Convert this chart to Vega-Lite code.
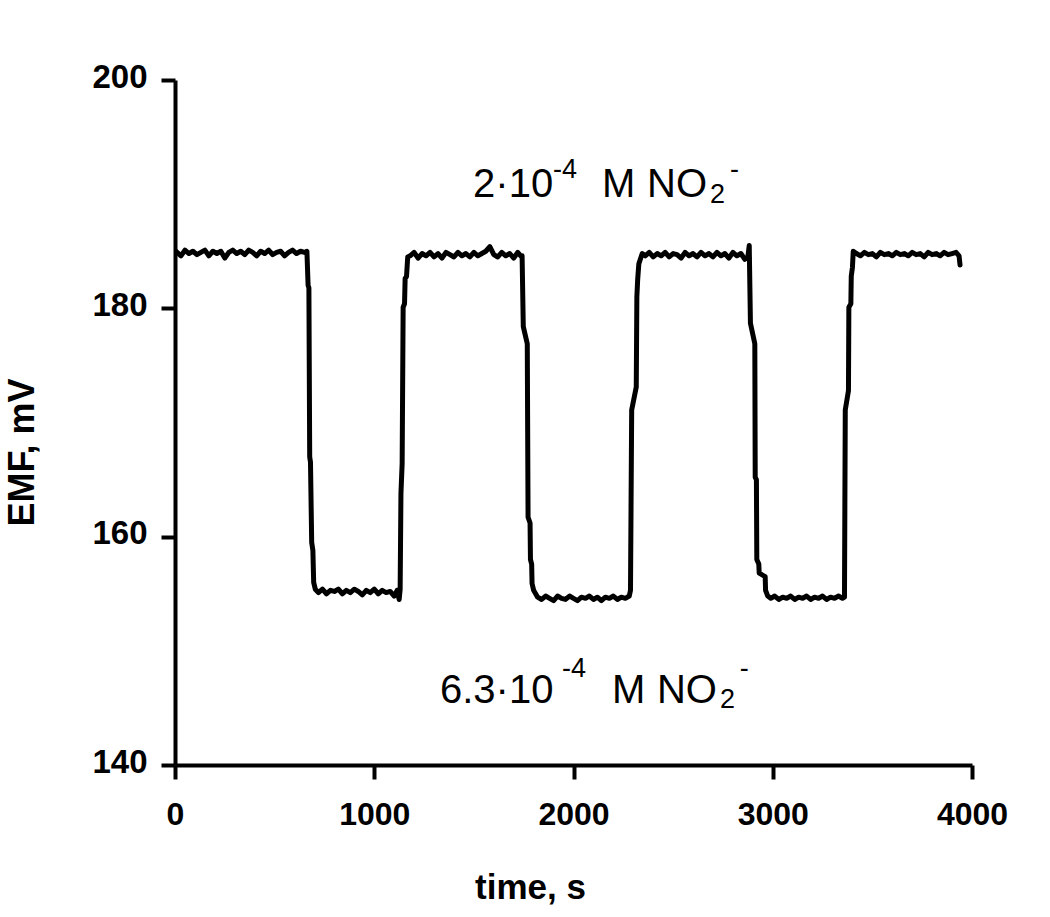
{
  "$schema": "https://vega.github.io/schema/vega-lite/v6.json",
  "width": 797,
  "height": 685,
  "autosize": {"type": "none"},
  "padding": {"left": 175, "top": 80, "right": 78, "bottom": 152},
  "background": "white",
  "config": {
    "view": {"stroke": null},
    "font": "Liberation Sans"
  },
  "datasets": {
    "series": [
      {"t": 5, "emf": 185.0}, {"t": 30, "emf": 184.6}, {"t": 50, "emf": 185.1}, {"t": 70, "emf": 184.8}, {"t": 90, "emf": 185.0},
      {"t": 110, "emf": 184.7}, {"t": 130, "emf": 184.9}, {"t": 150, "emf": 185.1}, {"t": 170, "emf": 184.6}, {"t": 190, "emf": 185.0},
      {"t": 210, "emf": 184.8}, {"t": 230, "emf": 185.0}, {"t": 250, "emf": 184.4}, {"t": 270, "emf": 184.9}, {"t": 290, "emf": 185.1},
      {"t": 310, "emf": 184.8}, {"t": 330, "emf": 185.0}, {"t": 350, "emf": 184.7}, {"t": 370, "emf": 185.1}, {"t": 390, "emf": 184.9},
      {"t": 410, "emf": 184.6}, {"t": 430, "emf": 185.0}, {"t": 450, "emf": 184.8}, {"t": 470, "emf": 185.1}, {"t": 490, "emf": 184.7},
      {"t": 510, "emf": 184.9}, {"t": 530, "emf": 185.0}, {"t": 550, "emf": 184.6}, {"t": 570, "emf": 184.9}, {"t": 590, "emf": 185.1},
      {"t": 610, "emf": 184.8}, {"t": 630, "emf": 185.0}, {"t": 650, "emf": 184.9}, {"t": 662, "emf": 185.0},
      {"t": 668, "emf": 182.0}, {"t": 672, "emf": 181.8}, {"t": 676, "emf": 167.0}, {"t": 680, "emf": 166.5}, {"t": 686, "emf": 159.5},
      {"t": 692, "emf": 158.8}, {"t": 696, "emf": 156.0}, {"t": 704, "emf": 155.4},
      {"t": 720, "emf": 155.1}, {"t": 740, "emf": 155.4}, {"t": 760, "emf": 155.0}, {"t": 780, "emf": 155.3}, {"t": 800, "emf": 155.2},
      {"t": 820, "emf": 155.4}, {"t": 840, "emf": 155.0}, {"t": 860, "emf": 155.3}, {"t": 880, "emf": 155.1}, {"t": 900, "emf": 155.4},
      {"t": 920, "emf": 155.2}, {"t": 940, "emf": 154.9}, {"t": 960, "emf": 155.3}, {"t": 980, "emf": 155.1}, {"t": 1000, "emf": 155.4},
      {"t": 1020, "emf": 155.0}, {"t": 1040, "emf": 155.3}, {"t": 1060, "emf": 155.1}, {"t": 1080, "emf": 155.2}, {"t": 1100, "emf": 154.8},
      {"t": 1115, "emf": 155.3}, {"t": 1125, "emf": 154.5},
      {"t": 1130, "emf": 155.4}, {"t": 1134, "emf": 163.8}, {"t": 1140, "emf": 166.4}, {"t": 1145, "emf": 180.1}, {"t": 1152, "emf": 180.4},
      {"t": 1155, "emf": 182.6}, {"t": 1162, "emf": 182.8}, {"t": 1168, "emf": 184.5},
      {"t": 1180, "emf": 184.6}, {"t": 1200, "emf": 184.9}, {"t": 1220, "emf": 184.4}, {"t": 1240, "emf": 184.8}, {"t": 1260, "emf": 184.6},
      {"t": 1280, "emf": 184.9}, {"t": 1300, "emf": 184.5}, {"t": 1320, "emf": 184.8}, {"t": 1340, "emf": 184.4}, {"t": 1360, "emf": 184.9},
      {"t": 1380, "emf": 184.7}, {"t": 1400, "emf": 184.5}, {"t": 1420, "emf": 184.9}, {"t": 1440, "emf": 184.6}, {"t": 1460, "emf": 184.8},
      {"t": 1480, "emf": 184.5}, {"t": 1500, "emf": 184.9}, {"t": 1520, "emf": 184.6}, {"t": 1540, "emf": 184.8}, {"t": 1560, "emf": 185.0},
      {"t": 1580, "emf": 185.4}, {"t": 1600, "emf": 184.7}, {"t": 1620, "emf": 184.5}, {"t": 1640, "emf": 184.9}, {"t": 1660, "emf": 184.6},
      {"t": 1680, "emf": 184.8}, {"t": 1700, "emf": 184.4}, {"t": 1720, "emf": 184.9}, {"t": 1735, "emf": 184.6},
      {"t": 1742, "emf": 184.6}, {"t": 1748, "emf": 178.4}, {"t": 1768, "emf": 176.9}, {"t": 1772, "emf": 161.7}, {"t": 1782, "emf": 161.2},
      {"t": 1784, "emf": 158.0}, {"t": 1790, "emf": 157.6}, {"t": 1792, "emf": 155.9}, {"t": 1800, "emf": 155.3},
      {"t": 1820, "emf": 154.7}, {"t": 1840, "emf": 154.5}, {"t": 1860, "emf": 154.8}, {"t": 1880, "emf": 154.6}, {"t": 1900, "emf": 154.4},
      {"t": 1920, "emf": 154.8}, {"t": 1940, "emf": 154.6}, {"t": 1960, "emf": 154.5}, {"t": 1980, "emf": 154.8}, {"t": 2000, "emf": 154.6},
      {"t": 2020, "emf": 154.4}, {"t": 2040, "emf": 154.7}, {"t": 2060, "emf": 154.6}, {"t": 2080, "emf": 154.8}, {"t": 2100, "emf": 154.5},
      {"t": 2120, "emf": 154.7}, {"t": 2140, "emf": 154.4}, {"t": 2160, "emf": 154.7}, {"t": 2180, "emf": 154.6}, {"t": 2200, "emf": 154.8},
      {"t": 2220, "emf": 154.5}, {"t": 2240, "emf": 154.7}, {"t": 2260, "emf": 154.6}, {"t": 2280, "emf": 154.8},
      {"t": 2286, "emf": 155.3}, {"t": 2292, "emf": 171.1}, {"t": 2315, "emf": 173.1}, {"t": 2318, "emf": 181.0}, {"t": 2322, "emf": 182.5},
      {"t": 2328, "emf": 183.9}, {"t": 2345, "emf": 184.8},
      {"t": 2360, "emf": 184.6}, {"t": 2380, "emf": 184.9}, {"t": 2400, "emf": 184.5}, {"t": 2420, "emf": 184.8}, {"t": 2440, "emf": 184.6},
      {"t": 2460, "emf": 184.9}, {"t": 2480, "emf": 184.5}, {"t": 2500, "emf": 184.8}, {"t": 2520, "emf": 184.7}, {"t": 2540, "emf": 184.4},
      {"t": 2560, "emf": 184.9}, {"t": 2580, "emf": 184.6}, {"t": 2600, "emf": 184.8}, {"t": 2620, "emf": 184.5}, {"t": 2640, "emf": 184.9},
      {"t": 2660, "emf": 184.6}, {"t": 2680, "emf": 184.8}, {"t": 2700, "emf": 184.5}, {"t": 2720, "emf": 184.9}, {"t": 2740, "emf": 184.6},
      {"t": 2760, "emf": 184.8}, {"t": 2780, "emf": 184.4}, {"t": 2800, "emf": 184.9}, {"t": 2820, "emf": 184.6}, {"t": 2840, "emf": 184.8},
      {"t": 2860, "emf": 184.3}, {"t": 2875, "emf": 184.5}, {"t": 2882, "emf": 185.5},
      {"t": 2888, "emf": 178.7}, {"t": 2910, "emf": 176.9}, {"t": 2912, "emf": 165.2}, {"t": 2918, "emf": 165.0}, {"t": 2920, "emf": 158.0},
      {"t": 2930, "emf": 157.6}, {"t": 2932, "emf": 156.8}, {"t": 2962, "emf": 156.5}, {"t": 2964, "emf": 155.3}, {"t": 2975, "emf": 154.8},
      {"t": 2990, "emf": 154.6}, {"t": 3010, "emf": 154.8}, {"t": 3030, "emf": 154.5}, {"t": 3050, "emf": 154.7}, {"t": 3070, "emf": 154.6},
      {"t": 3090, "emf": 154.8}, {"t": 3110, "emf": 154.5}, {"t": 3130, "emf": 154.7}, {"t": 3150, "emf": 154.6}, {"t": 3170, "emf": 154.8},
      {"t": 3190, "emf": 154.5}, {"t": 3210, "emf": 154.7}, {"t": 3230, "emf": 154.6}, {"t": 3250, "emf": 154.8}, {"t": 3270, "emf": 154.5},
      {"t": 3290, "emf": 154.7}, {"t": 3310, "emf": 154.6}, {"t": 3330, "emf": 154.8}, {"t": 3350, "emf": 154.6}, {"t": 3360, "emf": 154.7},
      {"t": 3364, "emf": 171.1}, {"t": 3380, "emf": 172.8}, {"t": 3382, "emf": 180.1}, {"t": 3392, "emf": 180.4}, {"t": 3394, "emf": 182.8},
      {"t": 3400, "emf": 183.6}, {"t": 3404, "emf": 185.0},
      {"t": 3420, "emf": 184.8}, {"t": 3440, "emf": 184.6}, {"t": 3460, "emf": 184.9}, {"t": 3480, "emf": 184.7}, {"t": 3500, "emf": 184.8},
      {"t": 3520, "emf": 184.5}, {"t": 3540, "emf": 184.9}, {"t": 3560, "emf": 184.7}, {"t": 3580, "emf": 184.8}, {"t": 3600, "emf": 184.6},
      {"t": 3620, "emf": 184.9}, {"t": 3640, "emf": 184.7}, {"t": 3660, "emf": 184.8}, {"t": 3680, "emf": 184.6}, {"t": 3700, "emf": 184.9},
      {"t": 3720, "emf": 184.7}, {"t": 3740, "emf": 184.8}, {"t": 3760, "emf": 184.5}, {"t": 3780, "emf": 184.9}, {"t": 3800, "emf": 184.7},
      {"t": 3820, "emf": 184.8}, {"t": 3840, "emf": 184.6}, {"t": 3860, "emf": 184.9}, {"t": 3880, "emf": 184.7}, {"t": 3900, "emf": 184.8},
      {"t": 3920, "emf": 184.9}, {"t": 3935, "emf": 184.6}, {"t": 3940, "emf": 183.8}
    ],
    "bigText": [
      {"t": 1496, "v": 189.75, "label": "2·10"},
      {"t": 2143, "v": 189.75, "label": "M"},
      {"t": 2369, "v": 189.75, "label": "NO"},
      {"t": 1330, "v": 145.43, "label": "6.3·10"},
      {"t": 2193, "v": 145.43, "label": "M"},
      {"t": 2419, "v": 145.43, "label": "NO"}
    ],
    "smallText": [
      {"t": 1897, "v": 191.41, "label": "-4"},
      {"t": 2685, "v": 189.22, "label": "2"},
      {"t": 2785, "v": 191.41, "label": "-"},
      {"t": 1942, "v": 147.71, "label": "-4"},
      {"t": 2735, "v": 144.99, "label": "2"},
      {"t": 2835, "v": 147.71, "label": "-"}
    ]
  },
  "layer": [
    {
      "data": {"name": "series"},
      "mark": {"type": "line", "color": "black", "strokeWidth": 5, "strokeJoin": "round", "strokeCap": "round", "clip": true},
      "encoding": {
        "x": {
          "field": "t", "type": "quantitative",
          "scale": {"domain": [0, 4000], "nice": false, "zero": false},
          "axis": {
            "title": "time, s",
            "values": [0, 1000, 2000, 3000, 4000],
            "format": "d",
            "grid": false,
            "domainColor": "black", "domainWidth": 4,
            "tickColor": "black", "tickWidth": 4, "tickSize": 14,
            "labelFont": "Liberation Sans", "labelFontWeight": "bold", "labelFontSize": 32, "labelColor": "black",
            "labelPadding": 20, "labelFlush": false, "labelOverlap": false,
            "titleFont": "Liberation Sans", "titleFontWeight": "bold", "titleFontSize": 35, "titleColor": "black",
            "titleBaseline": "alphabetic", "titleY": 133, "titleX": 355, "titleAlign": "center"
          }
        },
        "y": {
          "field": "emf", "type": "quantitative",
          "scale": {"domain": [140, 200], "nice": false, "zero": false},
          "axis": {
            "title": "EMF, mV",
            "values": [140, 160, 180, 200],
            "format": "d",
            "grid": false,
            "domainColor": "black", "domainWidth": 4,
            "tickColor": "black", "tickWidth": 4, "tickSize": 14,
            "labelFont": "Liberation Sans", "labelFontWeight": "bold", "labelFontSize": 33, "labelColor": "black",
            "labelPadding": 14, "labelOffset": -3, "labelFlush": false, "labelOverlap": false,
            "titleFont": "Liberation Sans", "titleFontWeight": "bold", "titleFontSize": 36, "titleColor": "black",
            "titleAngle": 270, "titleAlign": "center", "titleBaseline": "alphabetic", "titleX": -142, "titleY": 372
          }
        }
      }
    },
    {
      "data": {"name": "bigText"},
      "mark": {"type": "text", "font": "Liberation Sans", "fontSize": 40, "align": "left", "baseline": "alphabetic", "color": "black"},
      "encoding": {
        "x": {"field": "t", "type": "quantitative"},
        "y": {"field": "v", "type": "quantitative"},
        "text": {"field": "label"}
      }
    },
    {
      "data": {"name": "smallText"},
      "mark": {"type": "text", "font": "Liberation Sans", "fontSize": 27, "align": "left", "baseline": "alphabetic", "color": "black"},
      "encoding": {
        "x": {"field": "t", "type": "quantitative"},
        "y": {"field": "v", "type": "quantitative"},
        "text": {"field": "label"}
      }
    }
  ]
}
